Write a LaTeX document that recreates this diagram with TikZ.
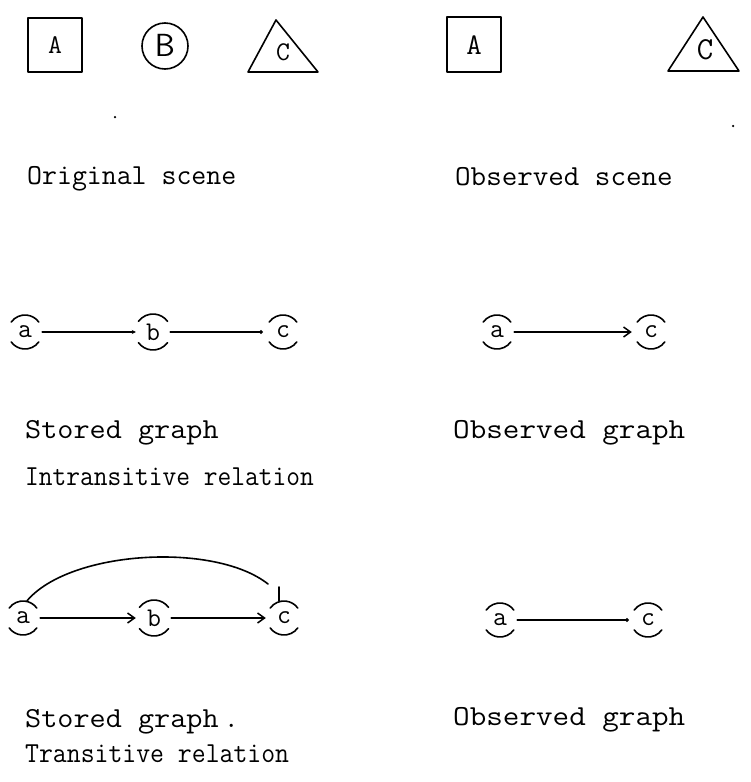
\documentclass[tikz,border=0pt]{standalone}
\usetikzlibrary{arrows.meta}
\tikzset{
  lbl/.style={font=\fontsize{29}{34}\selectfont\ttfamily, anchor=base west, inner sep=0pt},
  shapelbl/.style={font=\fontsize{27}{30}\selectfont\ttfamily, inner sep=0pt},
  vtx/.style={circle, minimum size=34pt, inner sep=0pt, font=\fontsize{27}{30}\selectfont\ttfamily},
  ln/.style={line width=1.6pt, line cap=round, line join=round},
  barb/.style={-{Straight Barb[length=7pt,width=10pt,line width=1.5pt]}},
  tinytip/.style={-{Stealth[length=4pt,width=4pt]}},
  dottip/.style={-{Circle[length=3.5pt]}},
  speck/.style={circle, fill=black, inner sep=0pt, minimum size=2.5pt},
}
\newcommand\sx[2]{\scalebox{#1}[1]{#2}}
\newcommand\vring[2]{%
  \draw[ln] ([shift={(36:#2)}]#1.center) arc[start angle=36,end angle=144,radius=#2];
  \draw[ln] ([shift={(216:#2)}]#1.center) arc[start angle=216,end angle=324,radius=#2];}
\begin{document}
\begin{tikzpicture}[x=1pt,y=-1pt]
\useasboundingbox (0,0) rectangle (750,782);
\fill[white] (0,0) rectangle (750,782);

% ---------- Original scene ----------
\draw[ln] (28,18) rectangle (82,72);
\node[shapelbl] (sA) at (55,45) {A};
\draw[ln] (165,46) circle[radius=23];
\node[shapelbl, font=\fontsize{32}{34}\selectfont\sffamily] (sB) at (165,45) {B};
\draw[ln] (276,20) -- (318,72) -- (248,72) -- cycle;
\node[shapelbl] (sC) at (283,52) {C};
\node[speck] (d1) at (115,117) {};
\node[lbl] (t1) at (27,184) {Original scene};

% ---------- Observed scene ----------
\draw[ln] (447,17) rectangle (501,72);
\node[shapelbl, font=\fontsize{30}{34}\selectfont\ttfamily] (oA) at (474,45) {A};
\draw[ln] (703,17) -- (739,71) -- (668,71) -- cycle;
\node[shapelbl, font=\fontsize{32}{34}\selectfont\ttfamily] (oC) at (705,50) {C};
\node[speck] (d2) at (733,126) {};
\node[lbl] (t2) at (455,185) {\sx{1.04}{Observed scene}};

% ---------- Row 2 left: intransitive ----------
\node[vtx] (a2) at (25,332) {a};
\node[vtx] (b2) at (153,332) {b};
\node[vtx] (c2) at (283,332) {c};
\vring{a2}{17}\vring{b2}{18}\vring{c2}{17}
\draw[ln,tinytip] (a2) -- (b2);
\draw[ln,dottip,shorten >=3pt] (b2) -- (c2);
\node[lbl] (t3) at (25,438) {\sx{1.08}{Stored graph}};
\node[lbl] (t4) at (25,485) {\sx{0.92}{Intransitive relation}};

% ---------- Row 2 right ----------
\node[vtx] (a2r) at (497,332) {a};
\node[vtx] (c2r) at (651,332) {c};
\vring{a2r}{17}\vring{c2r}{17}
\draw[ln,barb,shorten >=2pt] (a2r) -- (c2r);
\node[lbl] (t5) at (453,438) {\sx{1.11}{Observed graph}};

% ---------- Row 3 left: transitive ----------
\node[vtx] (a3) at (23,618) {a};
\node[vtx] (b3) at (154,618) {b};
\node[vtx] (c3) at (284,618) {c};
\vring{a3}{17}\vring{b3}{18}\vring{c3}{17}
\draw[ln,barb,shorten >=1pt] (a3) -- (b3);
\draw[ln,barb,shorten >=1pt] (b3) -- (c3);
\coordinate (ct) at (279,587);
\draw[ln] (a3.north) ++(4,0) .. controls (70,550) and (215,542) .. (268,584);
\draw[ln] (ct) -- (c3.north -| ct);
\node[lbl] (t6) at (25,727) {\sx{1.08}{Stored graph}\hspace{5pt}.};
\node[lbl] (t7) at (25,762) {\sx{0.93}{Transitive relation}};

% ---------- Row 3 right ----------
\node[vtx] (a3r) at (500,620) {a};
\node[vtx] (c3r) at (648,620) {c};
\vring{a3r}{17}\vring{c3r}{17}
\draw[ln,dottip,shorten >=2pt] (a3r) -- (c3r);
\node[lbl] (t8) at (453,725) {\sx{1.11}{Observed graph}};
\end{tikzpicture}
\end{document}
